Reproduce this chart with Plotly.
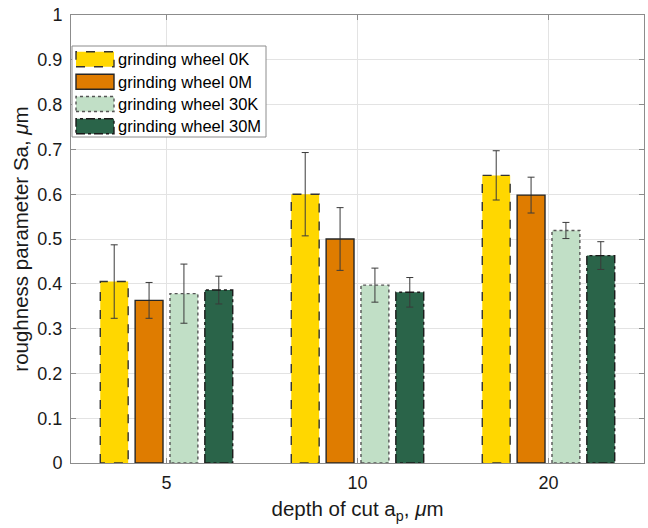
import plotly.graph_objects as go

# ---- data ----
depths = ["5", "10", "20"]
series_names = ["grinding wheel 0K", "grinding wheel 0M", "grinding wheel 30K", "grinding wheel 30M"]
sa_0K = [0.405, 0.600, 0.642]
sa_0M = [0.363, 0.500, 0.598]
sa_30K = [0.378, 0.397, 0.519]
sa_30M = [0.386, 0.381, 0.463]
err_0K = [0.082, 0.093, 0.055]
err_0M = [0.040, 0.070, 0.040]
err_30K = [0.066, 0.038, 0.018]
err_30M = [0.031, 0.033, 0.031]

values = [sa_0K, sa_0M, sa_30K, sa_30M]
errors = [err_0K, err_0M, err_30K, err_30M]

# ---- styles ----
fills = ["#FFD700", "#DF7C00", "#C1DFC6", "#2A6449"]
dashes = ["dash", "solid", "dot", "dashdot"]
edge_colors = ["#333333", "#262626", "#555555", "#1a1a1a"]
FONT = "Liberation Sans, Arial, sans-serif"

xpos = [1, 2, 3]
n = len(values)
group_w = 0.73
slot = group_w / n
bar_w = slot * 0.8

fig = go.Figure()
for i in range(n):
    off_c = -group_w / 2 + slot * (i + 0.5)
    fig.add_trace(go.Bar(
        x=xpos, y=values[i], width=bar_w, offset=off_c - bar_w / 2,
        marker=dict(color=fills[i], line=dict(width=0)),
        error_y=dict(type="data", array=errors[i], visible=True,
                     color="#3a3a3a", thickness=1, width=3.5),
        showlegend=False, name=series_names[i]))

# dashed outlines of the bars, computed from the data
for i in range(n):
    off_c = -group_w / 2 + slot * (i + 0.5)
    ox, oy = [], []
    for xp, v in zip(xpos, values[i]):
        x0 = xp + off_c - bar_w / 2
        x1 = xp + off_c + bar_w / 2
        ox += [x0, x0, x1, x1, x0, None]
        oy += [0, v, v, 0, 0, None]
    fig.add_trace(go.Scatter(x=ox, y=oy, mode="lines",
                             line=dict(color=edge_colors[i], width=1.4, dash=dashes[i]),
                             showlegend=False, hoverinfo="skip"))

# ---- manual legend (MATLAB style) ----
W, H = 573.0, 448.0
X0, Y0 = 71.0, 463.0
def px(x):
    return (x - X0) / W
def py(y):
    return (Y0 - y) / H

shapes = [dict(type="rect", xref="paper", yref="paper",
               x0=px(72), x1=px(266), y0=py(137), y1=py(46),
               fillcolor="white", line=dict(color="#8c8c8c", width=1), layer="above")]
annotations = []
centers = [59.3, 81.7, 104.0, 126.3]
for i in range(n):
    cy = centers[i]
    shapes.append(dict(type="rect", xref="paper", yref="paper",
                       x0=px(76), x1=px(114), y0=py(cy + 7.5), y1=py(cy - 7.5),
                       fillcolor=fills[i],
                       line=dict(color=edge_colors[i], width=1.4, dash=dashes[i]),
                       layer="above"))
    annotations.append(dict(xref="paper", yref="paper", x=px(116), y=py(cy),
                            text=series_names[i], showarrow=False,
                            xanchor="left", yanchor="middle",
                            font=dict(family=FONT, size=16.5, color="#000000")))

fig.update_layout(
    width=648, height=528,
    margin=dict(l=71, r=4, t=15, b=65),
    paper_bgcolor="white", plot_bgcolor="white",
    barmode="overlay",
    font=dict(family=FONT, size=18, color="#1a1a1a"),
    shapes=shapes, annotations=annotations,
    showlegend=False,
)
fig.update_xaxes(
    range=[0.5, 3.5], tickmode="array", tickvals=xpos, ticktext=depths,
    showgrid=True, gridcolor="#e3e3e3", gridwidth=1,
    showline=True, linecolor="#8c8c8c", linewidth=1, mirror="ticks",
    ticks="inside", ticklen=5, tickcolor="#8c8c8c",
    zeroline=False, automargin=False, ticklabelstandoff=3,
    ticklabeloverflow="allow",
    tickfont=dict(size=18),
    title=dict(text="depth of cut a<sub>p</sub>, <i>μ</i>m", font=dict(size=20.5), standoff=10),
)
fig.update_yaxes(
    range=[0, 1], tickmode="array", tickvals=[i / 10 for i in range(11)],
    ticktext=["0", "0.1", "0.2", "0.3", "0.4", "0.5", "0.6", "0.7", "0.8", "0.9", "1"],
    showgrid=True, gridcolor="#e3e3e3", gridwidth=1,
    showline=True, linecolor="#8c8c8c", linewidth=1, mirror="ticks",
    ticks="inside", ticklen=5, tickcolor="#8c8c8c",
    zeroline=False, automargin=False, ticklabelstandoff=4,
    ticklabeloverflow="allow",
    tickfont=dict(size=18),
    title=dict(text="roughness parameter Sa, <i>μ</i>m", font=dict(size=20.5), standoff=3),
)

fig.write_html("out.html", config={"displayModeBar": False},
               post_script="document.body.style.margin='0';document.body.style.overflow='hidden';")
